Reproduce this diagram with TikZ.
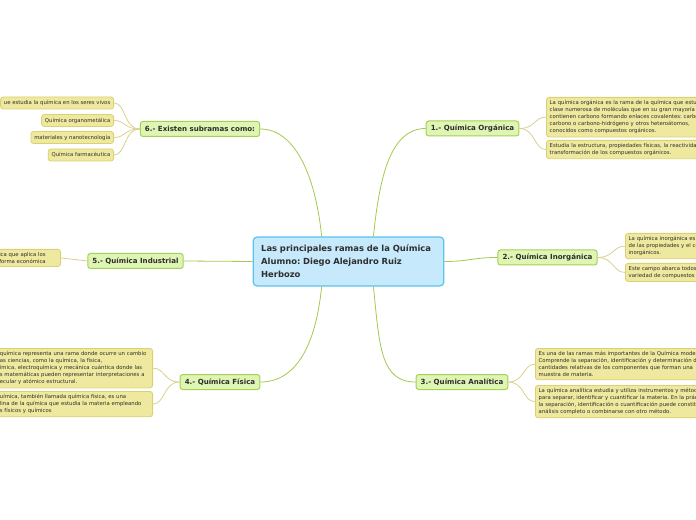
\documentclass[tikz,border=0pt]{standalone}
\usepackage{fontspec}
\setmainfont{DejaVu Sans}
\usetikzlibrary{calc}
\definecolor{mmblue}{HTML}{C6EAFB}
\definecolor{mmblueline}{HTML}{5BC2EF}
\definecolor{mmgreen}{HTML}{DFF5B3}
\definecolor{mmgreenline}{HTML}{A6CF58}
\definecolor{mmyellow}{HTML}{EEE99E}
\definecolor{mmyellowline}{HTML}{D9D174}
\definecolor{mmtext}{HTML}{2E2E2E}
\definecolor{mmlink}{HTML}{A3C94E}
\definecolor{mmleaflink}{HTML}{D8D18E}
\frenchspacing
\tikzset{
  centre/.style={draw=mmblueline,line width=0.9pt,rounded corners=3pt,fill=mmblue,
                 text=mmtext,font=\bfseries\fontsize{6.3}{9.75}\selectfont,align=left,
                 text width=131pt,minimum height=36.75pt,inner xsep=6pt},
  branch/.style={draw=mmgreenline,line width=0.75pt,rounded corners=2pt,fill=mmgreen,
                 text=mmtext,font=\bfseries\fontsize{5.3}{6.5}\selectfont,
                 inner xsep=3.5pt,inner ysep=1pt,minimum height=11.25pt},
  leaf/.style={draw=mmyellowline,line width=0.6pt,rounded corners=2pt,fill=mmyellow,
               text=mmtext,font=\fontsize{4.0}{5.3}\selectfont,align=left,
               inner xsep=2.5pt,inner ysep=2.2pt},
  tag/.style={leaf,inner ysep=1pt,minimum height=9pt},
  link/.style={draw=mmlink,line width=0.6pt},
  leaflink/.style={draw=mmleaflink,line width=0.6pt},
}
\begin{document}
\begin{tikzpicture}[x=0.75pt,y=-0.75pt]
  \useasboundingbox (0,0) rectangle (696,520);
  \clip (0,0) rectangle (696,520);

  % centre and main branches
  \node[centre] (root) at (348.5,261.5)
    {Las principales ramas de la Química\\Alumno: Diego Alejandro Ruiz\\Herbozo};
  \node[branch] (organica) at (472.5,128.5) {1.- Química Orgánica};
  \node[branch] (inorganica) at (547.5,257.5) {2.- Química Inorgánica};
  \node[branch] (analitica) at (462,382) {3.- Química Analítica};
  \node[branch] (fisica) at (220,382) {4.- Química Física};
  \node[branch] (industrial) at (135.5,261) {5.- Química Industrial};
  \node[branch] (subramas) at (200,129) {6.- Existen subramas como:};

  % leaves
  \node[leaf,anchor=north west,text width=200pt] (org1) at (546,97)
    {La química orgánica es la rama de la química que estudia\\
     clase numerosa de moléculas que en su gran mayoría\\
     contienen carbono formando enlaces covalentes: carbono-\\
     carbono o carbono-hidrógeno y otros heteroátomos,\\
     conocidos como compuestos orgánicos.};
  \node[leaf,anchor=north west,text width=200pt] (org2) at (546,140)
    {Estudia la estructura, propiedades físicas, la reactividad\\
     transformación de los compuestos orgánicos.};
  \node[leaf,anchor=north west,text width=200pt] (inorg1) at (625,233)
    {La química inorgánica es la\\de las propiedades y el comportamiento\\inorgánicos.};
  \node[leaf,anchor=north west,text width=200pt] (inorg2) at (625,263)
    {Este campo abarca todos\\variedad de compuestos};
  \node[leaf,anchor=north west,text width=200pt] (anal1) at (535,348)
    {Es una de las ramas más importantes de la Química moderna.\\
     Comprende la separación, identificación y determinación de las\\
     cantidades relativas de los componentes que forman una\\
     muestra de materia.};
  \node[leaf,anchor=north west,text width=200pt] (anal2) at (535,385)
    {La química analítica estudia y utiliza instrumentos y métodos\\
     para separar, identificar y cuantificar la materia. En la práctica\\
     la separación, identificación o cuantificación puede constituir\\
     análisis completo o combinarse con otro método.};
  \node[leaf,anchor=north east,text width=112pt] (fis1) at (153,348)
    {química representa una rama donde ocurre un cambio\\
     as ciencias, como la química, la física,\\
     ímica, electroquímica y mecánica cuántica donde las\\
     s matemáticas pueden representar interpretaciones a\\
     ecular y atómico estructural.};
  \node[leaf,anchor=north east,text width=112pt] (fis2) at (153,391)
    {uímica, también llamada química física, es una\\
     lina de la química que estudia la materia empleando\\
     s físicos y químicos};
  \node[leaf,anchor=north east,text width=43.5pt] (ind1) at (61,249)
    {ica que aplica los\\ forma económica};
  \node[tag,anchor=east] (sub1) at (114,103) {ue estudia la química en los seres vivos};
  \node[tag,anchor=east] (sub2) at (114,120.5) {Química organometálica};
  \node[tag,anchor=east] (sub3) at (114,137.5) {materiales y nanotecnología};
  \node[tag,anchor=east] (sub4) at (114,155) {Química farmacéutica};

  % links from the centre
  \coordinate (rt6) at ($(root.north west)!0.36!(root.north east)$);
  \coordinate (rt1) at ($(root.north west)!0.63!(root.north east)$);
  \coordinate (rb4) at ($(root.south west)!0.36!(root.south east)$);
  \coordinate (rb3) at ($(root.south west)!0.63!(root.south east)$);
  \draw[link] (subramas.east) .. controls +(35,0) and +(-6,-60) .. (rt6);
  \draw[link] (organica.west) .. controls +(-35,0) and +(6,-60) .. (rt1);
  \draw[link] (fisica.east) .. controls +(35,0) and +(-6,60) .. (rb4);
  \draw[link] (analitica.west) .. controls +(-35,0) and +(6,60) .. (rb3);
  \draw[link] (root.east) .. controls +(25,0) and +(-25,0) .. (inorganica.west);
  \draw[link] (root.west) -- (industrial.east);

  % links to the leaves
  \foreach \leafnode in {org1,org2}
    \draw[leaflink] (organica.east) .. controls +(16,0) and +(-12,0) .. (\leafnode.west);
  \foreach \leafnode in {inorg1,inorg2}
    \draw[leaflink] (inorganica.east) .. controls +(16,0) and +(-12,0) .. (\leafnode.west);
  \foreach \leafnode in {anal1,anal2}
    \draw[leaflink] (analitica.east) .. controls +(16,0) and +(-12,0) .. (\leafnode.west);
  \foreach \leafnode in {fis1,fis2}
    \draw[leaflink] (fisica.west) .. controls +(-16,0) and +(12,0) .. (\leafnode.east);
  \draw[leaflink] (industrial.west) -- (ind1.east);
  \foreach \leafnode in {sub1,sub2,sub3,sub4}
    \draw[leaflink] (subramas.west) .. controls +(-16,0) and +(12,0) .. (\leafnode.east);
\end{tikzpicture}
\end{document}
